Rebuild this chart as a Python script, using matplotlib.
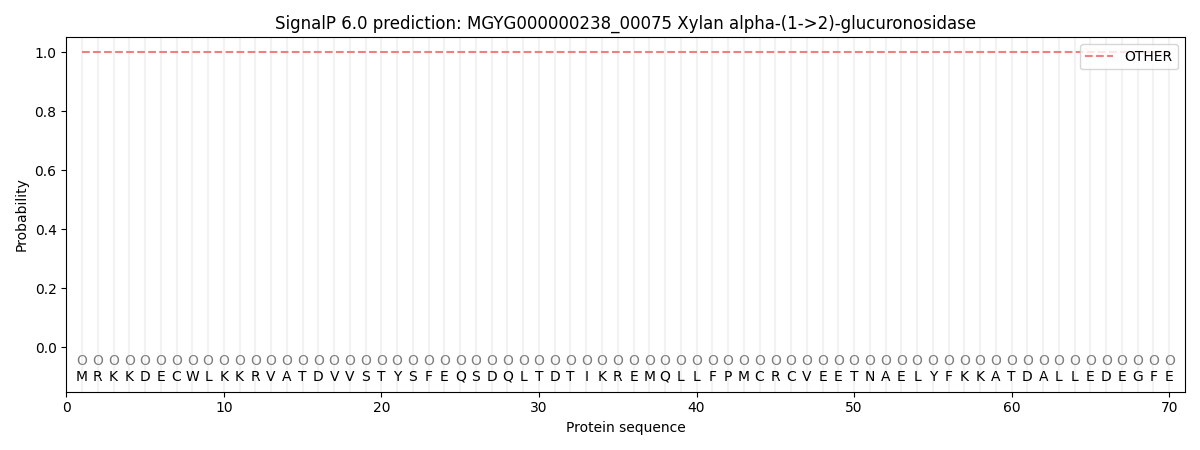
import matplotlib
matplotlib.use("Agg")
import matplotlib.pyplot as plt

sequence = "MRKKDECWLKKRVATDVVSTYSFEQSDQLTDTIKREMQLLFPMCRCVEETNAELYFKKATDALLEDEGFE"
positions = list(range(1, len(sequence) + 1))
# per-residue predicted labels (all "O" = other)
labels = ["O"] * len(sequence)
prob_other = [1.0] * len(sequence)

fig, ax = plt.subplots(figsize=(12, 4.5), dpi=100)

for p in positions:
    ax.axvline(p, color="#f2f2f2", linewidth=1.5, zorder=0)

ax.plot(positions, prob_other, linestyle="--", color="#f08080", linewidth=1.5, label="OTHER")

for p, aa, lab in zip(positions, sequence, labels):
    ax.text(p, -0.047, lab, ha="center", va="center", color="grey", fontsize=10)
    ax.text(p, -0.1, aa, ha="center", va="center", color="black", fontsize=10)

ax.set_xlim(0, 71)
ax.set_ylim(-0.15, 1.05)
ax.set_xlabel("Protein sequence")
ax.set_ylabel("Probability")
ax.set_title("SignalP 6.0 prediction: MGYG000000238_00075 Xylan alpha-(1->2)-glucuronosidase")
ax.legend(loc="upper right")

plt.tight_layout()
plt.savefig("out.png")
